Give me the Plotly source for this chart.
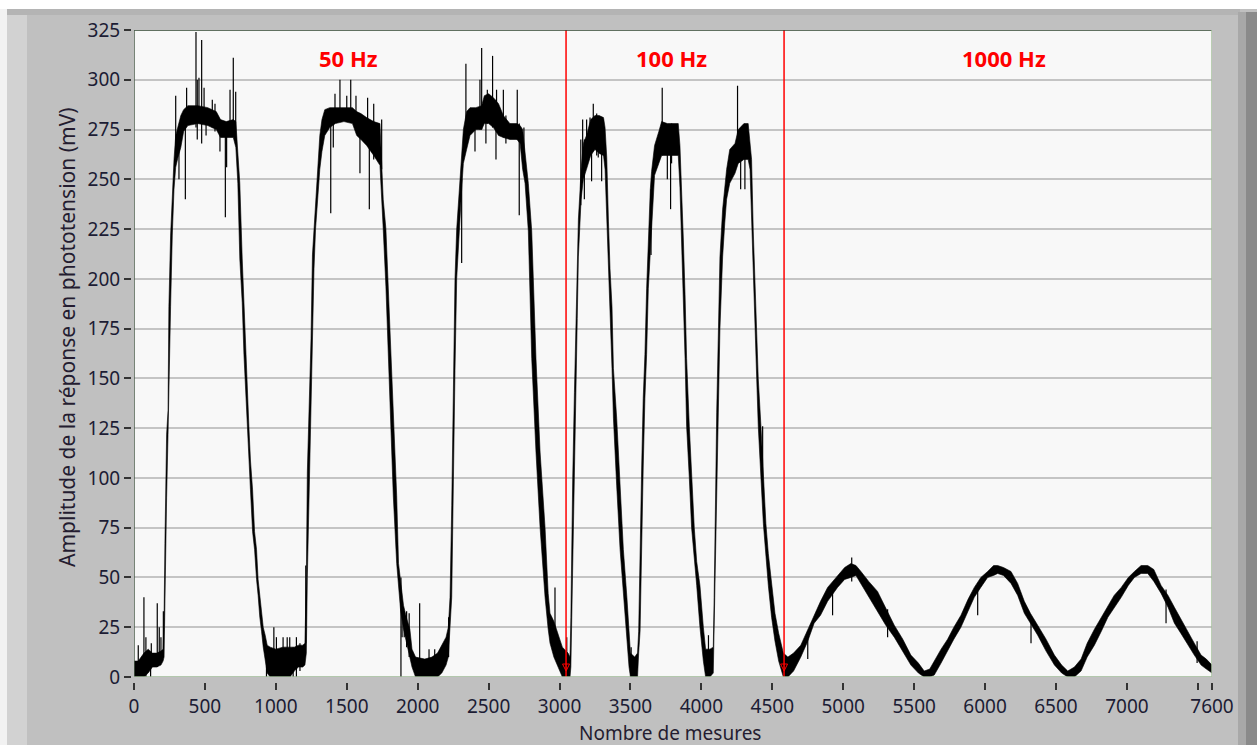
import plotly.graph_objects as go

# ---- signal envelope (sample index, lower, upper) in mV ----
env_x = [0, 30, 50, 70, 100, 130, 160, 190, 205, 212, 218, 225, 230, 240, 246, 258, 270, 282, 294, 310,
         330, 350, 380, 450, 520, 580, 610, 650, 700, 718, 725, 732, 746, 763, 775, 786, 798, 810, 821, 836,
         850, 864, 875, 887, 899, 911, 925, 939, 960, 1000, 1050, 1100, 1130, 1160, 1190, 1205, 1215, 1222, 1236, 1248,
         1258, 1269, 1280, 1295, 1310, 1325, 1345, 1380, 1420, 1480, 1540, 1570, 1600, 1640, 1690, 1734, 1745, 1757, 1776, 1793,
         1809, 1828, 1852, 1865, 1880, 1900, 1920, 1945, 1960, 1985, 2050, 2100, 2140, 2170, 2200, 2216, 2228, 2240, 2251, 2263,
         2275, 2293, 2310, 2322, 2345, 2369, 2410, 2451, 2470, 2500, 2534, 2570, 2604, 2650, 2700, 2722, 2740, 2757, 2780, 2804,
         2834, 2863, 2898, 2920, 2933, 2960, 2990, 3020, 3060, 3074, 3080, 3085, 3093, 3105, 3116, 3125, 3133, 3145, 3152, 3168,
         3190, 3220, 3250, 3280, 3310, 3321, 3333, 3345, 3356, 3370, 3380, 3403, 3427, 3450, 3475, 3490, 3500, 3530, 3550, 3558,
         3568, 3579, 3590, 3602, 3614, 3626, 3640, 3649, 3670, 3700, 3720, 3760, 3800, 3837, 3849, 3861, 3873, 3885, 3896, 3915,
         3931, 3950, 3967, 3990, 4014, 4030, 4060, 4084, 4090, 4096, 4102, 4108, 4120, 4131, 4150, 4165, 4178, 4200, 4237, 4260,
         4300, 4330, 4343, 4354, 4366, 4378, 4390, 4401, 4420, 4437, 4455, 4472, 4495, 4519, 4545, 4578, 4610, 4650, 4701, 4750,
         4795, 4840, 4890, 4960, 5010, 5054, 5090, 5125, 5180, 5242, 5300, 5360, 5420, 5477, 5530, 5571, 5610, 5642, 5690, 5736,
         5780, 5830, 5880, 5924, 5970, 6018, 6060, 6089, 6130, 6183, 6230, 6277, 6320, 6371, 6430, 6489, 6540, 6583, 6630, 6677,
         6720, 6771, 6820, 6866, 6910, 6960, 7010, 7053, 7100, 7147, 7190, 7241, 7290, 7335, 7380, 7429, 7475, 7523, 7560, 7600]
env_lo = [0, 0, 0, 0, 2, 5, 5, 6, 8, 10, 30, 67, 90, 122, 134, 186, 222, 245, 256, 261,
          266, 274, 277, 278, 277, 275, 271, 271, 271, 266, 258, 248, 210, 188, 162, 141, 126, 109, 94, 73,
          64, 49, 41, 30, 23, 15, 8, 2, 0, 0, 0, 0, 3, 5, 5, 6, 12, 50, 103, 140,
          170, 205, 225, 240, 255, 264, 272, 276, 278, 279, 278, 272, 270, 267, 262, 257, 240, 225, 196, 167,
          129, 91, 57, 45, 33, 24, 18, 10, 5, 0, 0, 0, 0, 2, 6, 10, 25, 40, 86, 154,
          200, 225, 245, 258, 265, 272, 275, 275, 278, 278, 276, 272, 271, 270, 270, 268, 255, 248, 224, 160,
          113, 75, 40, 24, 17, 10, 5, 0, 0, 0, 5, 30, 64, 100, 143, 180, 211, 230, 240, 250,
          255, 262, 265, 263, 262, 255, 229, 205, 186, 155, 130, 96, 64, 40, 20, 5, 0, 0, 0, 12,
          23, 70, 105, 140, 162, 195, 212, 225, 252, 258, 262, 262, 262, 262, 246, 220, 192, 160, 126, 100,
          75, 58, 46, 25, 8, 0, 0, 2, 15, 40, 64, 100, 133, 175, 211, 228, 240, 248, 253, 258,
          260, 260, 255, 224, 200, 175, 150, 126, 100, 77, 60, 46, 30, 18, 8, 0, 0, 3, 10, 18,
          27, 31, 38, 45, 49, 50, 51, 47, 40, 33, 26, 20, 13, 6, 2, 0, 0, 1, 7, 13,
          19, 25, 33, 40, 45, 50, 51, 52, 51, 47, 41, 32, 27, 21, 13, 6, 2, 0, 0, 3,
          10, 16, 23, 30, 35, 40, 46, 50, 52, 52, 48, 42, 35, 27, 22, 16, 11, 6, 4, 2]
env_hi = [8, 8, 10, 12, 14, 12, 12, 13, 14, 30, 67, 90, 122, 134, 186, 222, 245, 260, 272, 276,
          282, 285, 287, 287, 286, 284, 280, 279, 280, 279, 270, 262, 248, 210, 188, 162, 141, 126, 109, 94,
          73, 64, 49, 41, 30, 25, 21, 16, 15, 14, 15, 15, 15, 16, 16, 17, 50, 103, 140, 170,
          212, 225, 240, 258, 272, 280, 285, 286, 286, 286, 286, 284, 283, 281, 279, 278, 262, 240, 225, 196,
          167, 129, 91, 57, 48, 36, 30, 24, 14, 10, 9, 10, 12, 16, 20, 25, 40, 86, 154, 200,
          225, 245, 264, 275, 284, 286, 286, 287, 292, 293, 291, 288, 282, 278, 278, 277, 275, 262, 248, 224,
          160, 113, 75, 42, 32, 28, 22, 15, 12, 10, 30, 64, 100, 143, 180, 211, 230, 245, 255, 268,
          272, 280, 282, 282, 281, 276, 261, 229, 205, 186, 155, 130, 96, 64, 40, 25, 12, 10, 12, 23,
          70, 105, 140, 162, 195, 220, 245, 254, 267, 274, 279, 278, 278, 278, 267, 246, 220, 192, 160, 126,
          100, 75, 58, 46, 25, 14, 14, 15, 40, 64, 100, 133, 175, 211, 235, 248, 255, 265, 268, 275,
          278, 278, 270, 260, 224, 200, 175, 150, 126, 100, 77, 62, 48, 32, 22, 12, 10, 12, 16, 24,
          31, 38, 45, 51, 55, 57, 56, 53, 48, 43, 35, 26, 19, 11, 7, 3, 4, 8, 14, 19,
          25, 31, 39, 45, 50, 53, 56, 56, 55, 53, 47, 38, 32, 26, 19, 11, 6, 3, 5, 9,
          17, 24, 30, 35, 41, 45, 50, 53, 56, 56, 54, 46, 41, 35, 29, 23, 17, 11, 9, 6]

# ---- isolated spikes (sample index, low, high) in mV ----
spike_x = [30, 70, 84, 117, 122, 164, 178, 190, 207,
           294, 317, 362, 371, 437, 446, 458, 477, 494, 508, 552, 571, 606, 644, 653, 677, 700, 717,
           934, 986, 1004, 1051, 1080, 1098, 1122, 1145, 1170, 1211,
           1387, 1405, 1417, 1452, 1500, 1528, 1565, 1593, 1647, 1659, 1690, 1746,
           1882, 1890, 1905, 1922, 1940, 2014, 2080, 2120, 2218,
           2310, 2340, 2404, 2439, 2451, 2481, 2491, 2528, 2552, 2556, 2604, 2622, 2702, 2716, 2749,
           2968, 3051,
           3150, 3163, 3175, 3191, 3215, 3226, 3238, 3262, 3273, 3297, 3309,
           3505, 3645, 3724, 3760, 3783, 3790, 4050,
           4255, 4277, 4307, 4432,
           4750, 4925, 5060, 5313, 5948, 6324, 7276, 7495]
spike_lo = [0, 0, 0, 0, 5, 5, 6, 7, 10,
            262, 250, 240, 278, 276, 270, 278, 268, 278, 272, 276, 274, 264, 231, 256, 272, 272, 270,
            0, 0, 0, 0, 0, 0, 0, 0, 3, 17,
            233, 266, 280, 280, 279, 280, 275, 253, 270, 235, 260, 255,
            0, 20, 20, 15, 10, 2, 0, 0, 10,
            208, 270, 264, 275, 275, 268, 278, 276, 260, 275, 271, 268, 270, 232, 255,
            10, 0,
            237, 255, 240, 262, 262, 249, 265, 262, 261, 249, 262,
            0, 212, 262, 250, 235, 258, 0,
            262, 245, 245, 90,
            9, 31, 48, 20, 31, 17, 27, 7]
spike_hi = [16, 40, 20, 12, 17, 37, 25, 20, 33,
            292, 275, 283, 296, 324, 300, 301, 320, 296, 285, 290, 288, 280, 278, 278, 295, 311, 294,
            15, 25, 20, 20, 20, 20, 15, 20, 17, 56,
            280, 284, 293, 300, 292, 300, 292, 282, 291, 278, 288, 280,
            50, 37, 33, 33, 32, 37, 14, 14, 30,
            250, 308, 282, 300, 316, 288, 295, 312, 290, 295, 295, 282, 295, 278, 276,
            45, 20,
            270, 280, 270, 280, 281, 275, 288, 283, 280, 278, 280,
            15, 245, 296, 276, 276, 278, 21,
            297, 275, 277, 126,
            20, 45, 60, 34, 44, 30, 44, 18]

# ---- cursors and labels ----
cursor_x = [3046, 4583]
band_labels = ["50 Hz", "100 Hz", "1000 Hz"]
band_label_x = [1509, 3786, 6134]
band_label_y = 311

y_tickvals = list(range(0, 326, 25))
x_tickvals = list(range(0, 7501, 500)) + [7600]
x_ticktext = [str(v) for v in range(0, 7001, 500)] + ["", "7600"]

X_MAX, Y_MAX = 7600, 325

fig = go.Figure()

# noisy signal band (upper envelope forward, lower envelope back)
poly_x = env_x + env_x[::-1]
poly_y = env_hi + env_lo[::-1]
fig.add_trace(go.Scatter(x=poly_x, y=poly_y, mode="lines", fill="toself",
                         fillcolor="#000000", line=dict(color="#000000", width=0.6),
                         hoverinfo="skip", showlegend=False))

sx, sy = [], []
for xv, lo, hi in zip(spike_x, spike_lo, spike_hi):
    sx += [xv, xv, None]
    sy += [lo, hi, None]
fig.add_trace(go.Scatter(x=sx, y=sy, mode="lines", line=dict(color="#000000", width=1.2),
                         hoverinfo="skip", showlegend=False))

# red cursors
for cx in cursor_x:
    fig.add_trace(go.Scatter(x=[cx, cx], y=[0, Y_MAX], mode="lines",
                             line=dict(color="#ff0000", width=1.5), showlegend=False, hoverinfo="skip"))
fig.add_trace(go.Scatter(x=cursor_x, y=[3, 3], mode="markers",
                         marker=dict(symbol="arrow-down-open", size=7, color="#ff0000",
                                     line=dict(width=1, color="#ff0000")),
                         showlegend=False, hoverinfo="skip"))

for txt, lx in zip(band_labels, band_label_x):
    fig.add_annotation(x=lx, y=band_label_y, text="<b>%s</b>" % txt, showarrow=False,
                       font=dict(family="Noto Sans", size=22, color="#ff0000"),
                       xanchor="center", yanchor="middle")

W, H = 1257, 745
ML, MR, MT, MB = 131, 45, 30, 63
PW = W - ML - MR
PH = H - MT - MB


def px(xp):
    return (xp - ML) / PW


def py(yp):
    return (H - MB - yp) / PH


tick_font = dict(family="Noto Sans", size=19, color="#1c1c34")

fig.update_layout(
    width=W, height=H,
    margin=dict(l=ML, r=MR, t=MT, b=MB, pad=0),
    paper_bgcolor="#c0c0c0",
    plot_bgcolor="#f8f8f8",
    xaxis=dict(range=[0, X_MAX], domain=[3 / PW, 1], anchor="free", position=0,
               tickvals=x_tickvals, ticktext=x_ticktext, ticks="outside", ticklen=7,
               tickwidth=1.5, tickcolor="#333333", showgrid=False, zeroline=False,
               showline=False, tickfont=tick_font),
    yaxis=dict(range=[0, Y_MAX], domain=[5 / PH, 1], anchor="free", position=0,
               tickvals=y_tickvals, ticks="outside", ticklen=7, tickwidth=1.5,
               tickcolor="#333333", showgrid=True, gridcolor="#c4c4c4", gridwidth=1.6,
               zeroline=False, showline=False, tickfont=tick_font),
    font=dict(family="Noto Sans"),
)

# axis titles
fig.add_annotation(xref="paper", yref="paper", x=px(670), y=py(733), text="Nombre de mesures",
                   showarrow=False, font=dict(family="Noto Sans", size=19, color="#241c30"),
                   xanchor="center", yanchor="middle")
fig.add_annotation(xref="paper", yref="paper", x=px(67), y=py(337),
                   text="Amplitude de la réponse en phototension (mV)", textangle=-90,
                   showarrow=False, font=dict(family="Noto Sans", size=21, color="#241c30"),
                   xanchor="center", yanchor="middle")

# window decorations
shapes = [
    dict(type="rect", xref="paper", yref="paper", x0=px(0), x1=px(W), y0=py(9), y1=py(0),
         fillcolor="#ffffff", line=dict(width=0), layer="below"),
    dict(type="rect", xref="paper", yref="paper", x0=px(7), x1=px(1240), y0=py(15), y1=py(9),
         fillcolor="#b4b4b4", line=dict(width=0), layer="below"),
    dict(type="rect", xref="paper", yref="paper", x0=px(0), x1=px(7), y0=py(H), y1=py(9),
         fillcolor="#f2f2f2", line=dict(width=0), layer="below"),
    dict(type="rect", xref="paper", yref="paper", x0=px(7), x1=px(27), y0=py(H), y1=py(15),
         fillcolor="#d2d2d2", line=dict(width=0), layer="below"),
    dict(type="rect", xref="paper", yref="paper", x0=px(1238), x1=px(1246), y0=py(H), y1=py(12),
         fillcolor="#a8a8a8", line=dict(width=0), layer="below"),
    dict(type="rect", xref="paper", yref="paper", x0=px(1246), x1=px(W), y0=py(H), y1=py(12),
         fillcolor="#8a8a8a", line=dict(width=0), layer="below"),
    # plot frame
    dict(type="line", xref="x", yref="y", x0=0, x1=X_MAX, y0=Y_MAX, y1=Y_MAX,
         line=dict(color="#2f452f", width=1.5), layer="above"),
    dict(type="line", xref="x", yref="y", x0=0, x1=0, y0=0, y1=Y_MAX,
         line=dict(color="#4c5e4c", width=1.5), layer="above"),
    dict(type="line", xref="x", yref="y", x0=0, x1=X_MAX, y0=0, y1=0,
         line=dict(color="#9db894", width=1.5), layer="above"),
    dict(type="line", xref="x", yref="y", x0=X_MAX, x1=X_MAX, y0=0, y1=Y_MAX,
         line=dict(color="#a6c09c", width=1.5), layer="above"),
]
fig.update_layout(shapes=shapes)

fig.write_html("out.html", config={"displayModeBar": False},
               post_script="document.body.style.margin='0';document.body.style.overflow='hidden';")
